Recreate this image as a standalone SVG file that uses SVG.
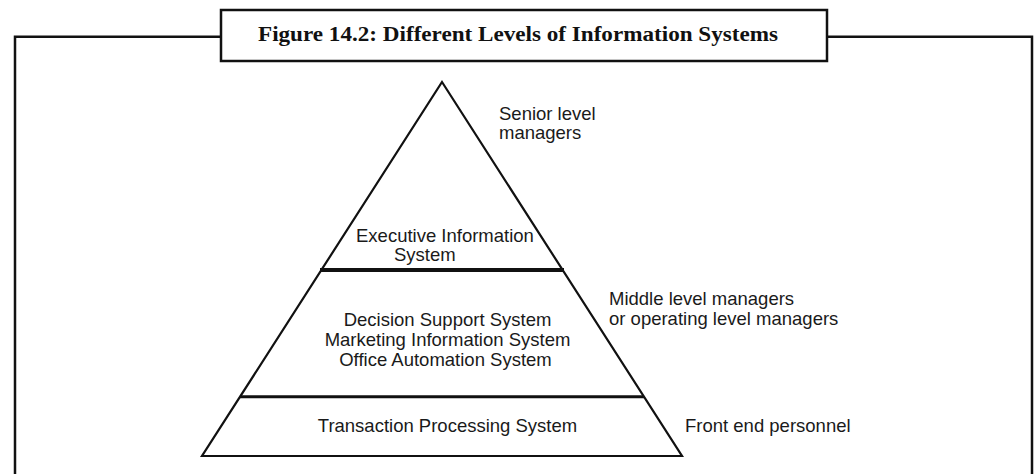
<svg xmlns="http://www.w3.org/2000/svg" width="1034" height="474" viewBox="0 0 1034 474">
  <style>
    .frame { fill: none; stroke: #111; stroke-width: 2.5; }
    .pyr { fill: none; stroke: #111; stroke-width: 2.2; stroke-linejoin: miter; }
    .lbl { font-family: "Liberation Sans", Arial, sans-serif; font-size: 18.5px; fill: #1a1a1a; }
    .title { font-family: "Liberation Serif", "Times New Roman", serif; font-weight: bold; font-size: 20px; fill: #111; }
  </style>
  <rect width="1034" height="474" fill="#fff"/>
  <g id="frame">
    <path class="frame" d="M15,476 V36.7 H221"/>
    <path class="frame" d="M827,36.7 H1032 V476"/>
  </g>
  <g id="title">
    <rect class="frame" x="221" y="10" width="606" height="51" fill="#fff"/>
    <text class="title" x="518" y="41" text-anchor="middle" textLength="520" lengthAdjust="spacingAndGlyphs">Figure 14.2: Different Levels of Information Systems</text>
  </g>
  <g id="pyramid">
    <polygon class="pyr" points="442,82 682,456 202,456"/>
    <line x1="320" y1="270" x2="564" y2="270" stroke="#111" stroke-width="4.2"/>
    <line x1="240" y1="396.7" x2="644" y2="396.7" stroke="#111" stroke-width="3"/>
  </g>
  <g id="eis">
    <text class="lbl" x="356" y="242">Executive Information</text>
    <text class="lbl" x="394" y="261">System</text>
  </g>
  <g id="middle">
    <text class="lbl" x="447.5" y="326" text-anchor="middle">Decision Support System</text>
    <text class="lbl" x="447.5" y="346" text-anchor="middle">Marketing Information System</text>
    <text class="lbl" x="445.5" y="365.7" text-anchor="middle">Office Automation System</text>
  </g>
  <g id="tps">
    <text class="lbl" x="447.5" y="431.7" text-anchor="middle">Transaction Processing System</text>
  </g>
  <g id="senior">
    <text class="lbl" x="499" y="120">Senior level</text>
    <text class="lbl" x="499" y="139">managers</text>
  </g>
  <g id="middle-mgr">
    <text class="lbl" x="609" y="305.3">Middle level managers</text>
    <text class="lbl" x="609" y="324.8">or operating level managers</text>
  </g>
  <g id="front">
    <text class="lbl" x="685" y="432.3">Front end personnel</text>
  </g>
</svg>
